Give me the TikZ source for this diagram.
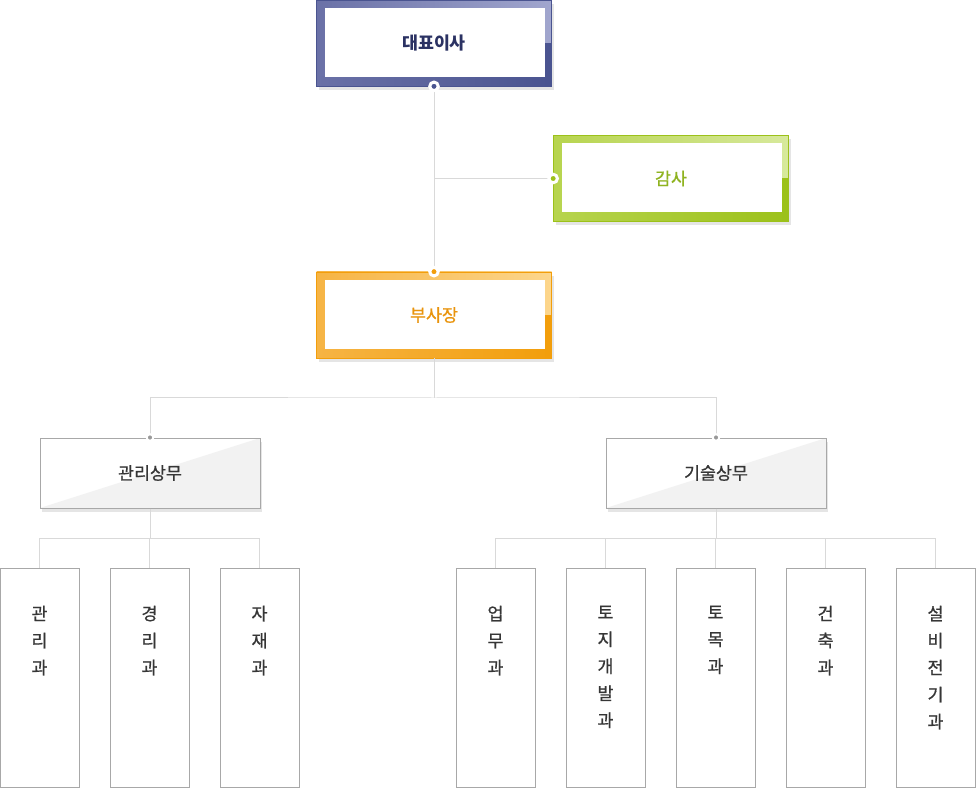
\documentclass[tikz,border=0pt]{standalone}
\usepackage{fontspec}
\setmainfont{Noto Sans CJK KR}
\newfontface\krmed{Noto Sans CJK KR}[FakeBold=0.8]
\usetikzlibrary{positioning, shadows}
\definecolor{navylight}{HTML}{A1A6CE}
\definecolor{navymid}{HTML}{6A71A7}
\definecolor{navydark}{HTML}{4A5490}
\definecolor{navytext}{HTML}{2B3263}
\definecolor{greenlight}{HTML}{D7E99C}
\definecolor{greenmid}{HTML}{B7D44E}
\definecolor{greendark}{HTML}{9CC11A}
\definecolor{greentext}{HTML}{8FB320}
\definecolor{orangelight}{HTML}{FCD68C}
\definecolor{orangemid}{HTML}{F6B444}
\definecolor{orangedark}{HTML}{F29E0C}
\definecolor{orangetext}{HTML}{E9940D}
\definecolor{boxgray}{HTML}{A8A8A8}
\definecolor{textgray}{HTML}{363636}
\def\px{0.75pt}
\tikzset{
    link/.style={draw=black!15, line width=\px},
    topbox/.style n args={3}{% light, mid, dark
        minimum width=235*\px, minimum height=86*\px, inner sep=0pt,
        left color=#2, right color=#1, draw=#3, line width=0.5pt,
        font=\krmed\fontsize{13pt}{15pt}\selectfont,
        drop shadow={shadow xshift=2*\px, shadow yshift=-4*\px, fill=black!10, opacity=1},
        path picture={
            \shade[left color=#2, right color=#3] ([yshift=9*\px]path picture bounding box.south west) rectangle (path picture bounding box.south east);
            \fill[#3] ([shift={(-7,43)}]path picture bounding box.north east) rectangle (path picture bounding box.south east);
            \fill[white] ([shift={(8,8)}]path picture bounding box.north west) rectangle ([shift={(-7,-9)}]path picture bounding box.south east);
        }},
    midbox/.style={
        minimum width=220*\px, minimum height=70*\px, inner sep=0pt,
        draw=boxgray, fill=white, line width=\px, text=textgray,
        font=\krmed\fontsize{13pt}{15pt}\selectfont,
        drop shadow={shadow xshift=2*\px, shadow yshift=-4*\px, fill=black!10, opacity=1},
        path picture={
            \fill[black!5] (path picture bounding box.south west) -- (path picture bounding box.north east) -- (path picture bounding box.south east) -- cycle;
        }},
    deptbox/.style={
        minimum width=79*\px, minimum height=219*\px, inner sep=0pt,
        draw=boxgray, fill=white, line width=\px},
    vtext/.style={anchor=north, align=center, inner sep=0pt, text=textgray,
        font=\krmed\fontsize{13pt}{20.25pt}\selectfont},
    dot/.style={circle, fill=#1, draw=white, line width=3*\px, inner sep=0pt, minimum size=8.5*\px},
}

\begin{document}
\begin{tikzpicture}[x=0.75pt, y=-0.75pt]
    \useasboundingbox (0,0) rectangle (976,788);

    % top level
    \node[topbox={navylight}{navymid}{navydark}, text=navytext, font=\bfseries\fontsize{13pt}{15pt}\selectfont] (ceo) at (434,43) {대표이사};
    \node[topbox={greenlight}{greenmid}{greendark}, text=greentext] (audit) at (671,178.5) {감사};
    \node[topbox={orangelight}{orangemid}{orangedark}, text=orangetext] (vp) at (434,315) {부사장};

    % directors
    \node[midbox] (mgmt) at (150,473) {관리상무};
    \node[midbox] (tech) at (716,473) {기술상무};

    % departments
    \foreach \n/\x/\lbl in {gwanri/40/관\\리\\과, gyeongri/150/경\\리\\과, jajae/260/자\\재\\과} {
        \node[deptbox] (\n) at (\x-0.5,677.5) {};
        \node[vtext] (\n-t) at ([yshift=-38*\px]\n.north) {\lbl};
    }
    \foreach \n/\x/\lbl in {eopmu/496/업\\무\\과, toji/606/토\\지\\개\\발\\과, tomok/716/토\\목\\과, geonchuk/826/건\\축\\과, seolbi/936/설\\비\\전\\기\\과} {
        \node[deptbox] (\n) at (\x-0.5,677.5) {};
        \node[vtext] (\n-t) at ([yshift=-38*\px]\n.north) {\lbl};
    }

    % connectors
    \coordinate (vpbus) at (434,398);
    \coordinate (mgmtbus) at (150,538);
    \coordinate (techbus) at (716,538);
    \draw[link] (ceo.south) -- (vp.north);
    \draw[link] (ceo.south |- audit.west) -- (audit.west);
    \draw[link] (vp.south) -- (vpbus);
    \draw[link] (mgmt.north) |- (vpbus) -| (tech.north);
    \draw[link] (mgmt.south) -- (mgmtbus);
    \draw[link] (tech.south) -- (techbus);
    \foreach \n in {gwanri, gyeongri, jajae}
        \draw[link] (\n.north) |- (mgmtbus);
    \foreach \n in {eopmu, toji, tomok, geonchuk, seolbi}
        \draw[link] (\n.north) |- (techbus);

    % dots
    \node[dot=navydark] (ceo-dot) at (ceo.south) {};
    \node[dot=greendark] (audit-dot) at (audit.west) {};
    \node[dot=orangedark] (vp-dot) at (vp.north) {};
    \node[dot=black!40, line width=2*\px, minimum size=6.5*\px] (mgmt-dot) at (mgmt.north) {};
    \node[dot=black!40, line width=2*\px, minimum size=6.5*\px] (tech-dot) at (tech.north) {};
\end{tikzpicture}
\end{document}
